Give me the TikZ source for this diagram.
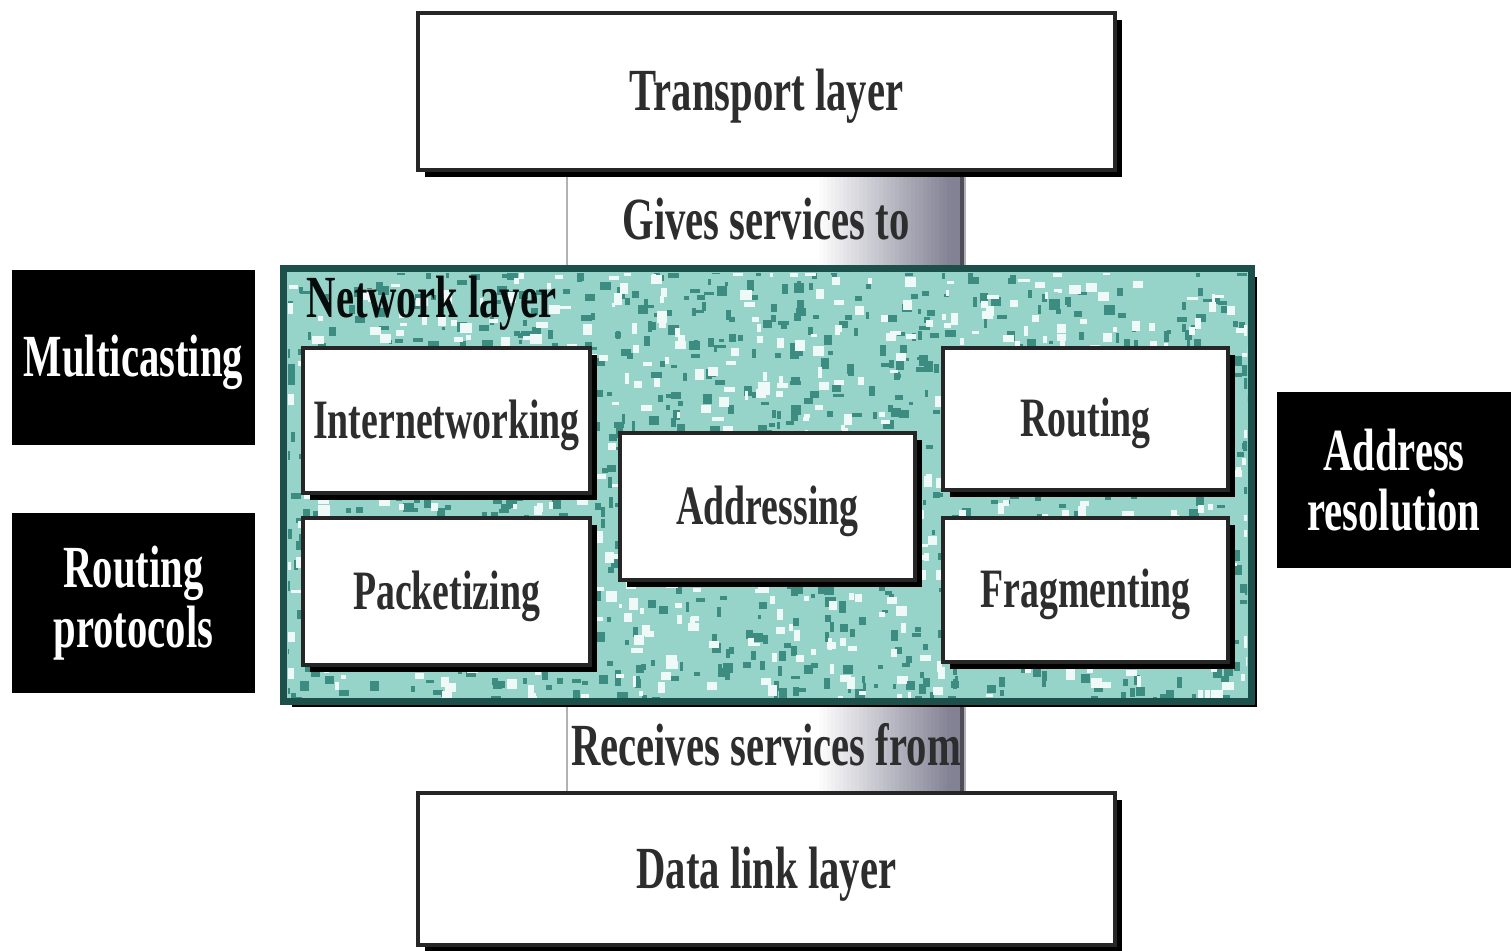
\documentclass[tikz,border=0pt]{standalone}
\usepackage{fontspec}
\setmainfont{Liberation Serif}[FakeStretch=0.68]
\usetikzlibrary{shadows}
\definecolor{tealbase}{RGB}{150,212,202}
\definecolor{tealdark}{RGB}{60,140,130}
\definecolor{tealedge}{RGB}{30,80,75}
\definecolor{pillargray}{RGB}{130,130,148}
\definecolor{ink}{RGB}{45,45,45}
\begin{document}
\begin{tikzpicture}[x=0.01cm,y=-0.01cm,
  labfont/.style={font=\fontsize{17}{17}\selectfont\bfseries},
  smallfont/.style={font=\fontsize{15.8}{16}\selectfont\bfseries},
  low/.style={text height=0.5cm, text depth=0.12cm},
  lowsmall/.style={text height=0.47cm, text depth=0.12cm},
  layerbox/.style={draw=black!85, line width=1.2pt, fill=white, inner sep=0pt,
    drop shadow={shadow xshift=0.07cm, shadow yshift=-0.07cm, fill=black, opacity=1},
    labfont, low, text=ink},
  innerbox/.style={layerbox, line width=1pt, smallfont, lowsmall},
  blackbox/.style={fill=black, text=white, align=center, inner sep=0pt, labfont},
  pillar/.style={draw=gray!60, line width=0.6pt, inner sep=0pt, labfont, text=ink}
]
\useasboundingbox (0,0) rectangle (1511,950);
\fill[white] (0,0) rectangle (1511,950);

% pillar backgrounds with gradient
\foreach \ya/\yb in {170/270, 700/793}{
  \foreach \k in {0,...,33}{
    \pgfmathsetmacro\p{\k*3}
    \fill[pillargray!\p!white] (815+4*\k,\ya) rectangle ++(4.3,\yb-\ya);
  }
  \fill[pillargray] (951,\ya) rectangle (960,\yb);
  \fill[pillargray!60!black] (960,\ya) rectangle (965,\yb);
}

% pillars
\node[pillar, low, minimum width=3.98cm, minimum height=1.00cm] (give) at (766,220) {Gives services to};
\node[pillar, low, minimum width=3.98cm, minimum height=0.93cm] (recv) at (766,746.5) {Receives services from};

% layer boxes
\node[layerbox, minimum width=6.97cm, minimum height=1.57cm] (transport) at (766.5,91.5) {Transport layer};
\node[layerbox, minimum width=6.97cm, minimum height=1.52cm] (datalink) at (766.5,869) {Data link layer};

% network layer
\node[draw=tealedge, line width=1.4pt, fill=tealbase, inner sep=0pt,
  drop shadow={shadow xshift=0.07cm, shadow yshift=-0.07cm, fill=black, opacity=1},
  minimum width=9.65cm, minimum height=4.30cm] (net) at (767.5,485) {};
\begin{scope}
  \clip (288,273) rectangle (1247,697);
  \pgfmathsetseed{7}
  \foreach \i in {1,...,1100}{
    \pgfmathsetmacro\px{280+975*rnd}
    \pgfmathsetmacro\py{265+440*rnd}
    \pgfmathsetmacro\s{3+8*rnd}
    \pgfmathsetmacro\t{3+8*rnd}
    \fill[tealdark] (\px,\py) rectangle ++(\s,\t);
  }
  \foreach \i in {1,...,700}{
    \pgfmathsetmacro\px{280+975*rnd}
    \pgfmathsetmacro\py{265+440*rnd}
    \pgfmathsetmacro\s{3+9*rnd}
    \pgfmathsetmacro\t{3+9*rnd}
    \fill[white!85!tealbase] (\px,\py) rectangle ++(\s,\t);
  }
\end{scope}
\draw[tealedge, line width=1.4pt] (net.north west) rectangle (net.south east);
\node[labfont, text=black!85!tealedge, anchor=west, inner sep=0pt] (netlabel) at (306,303) {Network layer};

% inner boxes
\node[innerbox, minimum width=2.87cm, minimum height=1.45cm] (internet) at (446.5,420.5) {Internetworking};
\node[innerbox, minimum width=2.87cm, minimum height=1.47cm] (packet) at (446.5,591.5) {Packetizing};
\node[innerbox, minimum width=2.95cm, minimum height=1.47cm] (address) at (767.5,506.5) {Addressing};
\node[innerbox, minimum width=2.85cm, minimum height=1.42cm] (routing) at (1085.5,419) {Routing};
\node[innerbox, minimum width=2.85cm, minimum height=1.44cm] (frag) at (1085.5,590) {Fragmenting};

% black boxes
\node[blackbox, low, minimum width=2.43cm, minimum height=1.75cm] (multi) at (133.5,357.5) {Multicasting};
\node[blackbox, minimum width=2.43cm, minimum height=1.80cm] (rprot) at (133.5,603) {Routing\\protocols};
\node[blackbox, minimum width=2.34cm, minimum height=1.75cm] (ares) at (1394,480) {Address\\resolution};
\end{tikzpicture}
\end{document}
